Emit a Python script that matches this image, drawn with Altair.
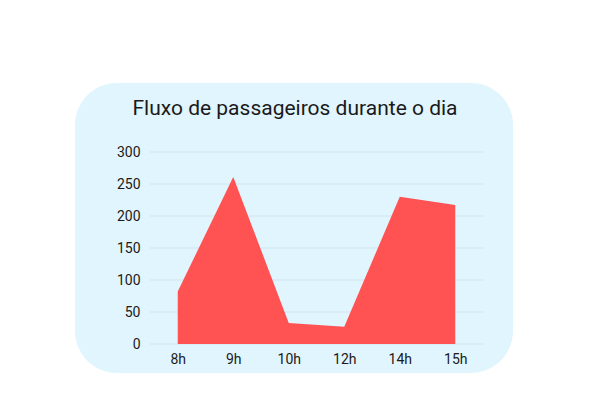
import altair as alt
import pandas as pd

hours = ["8h", "9h", "10h", "12h", "14h", "15h"]
passengers = [82, 261, 33, 27, 230, 217]
y_ticks = [0, 50, 100, 150, 200, 250, 300]
title_text = "Fluxo de passageiros durante o dia"

df = pd.DataFrame({"hora": hours, "passageiros": passengers})
grid_df = pd.DataFrame({"v": y_ticks})

W, H = 333, 192

y_axis = alt.Axis(title=None, values=y_ticks, grid=False, labelOverlap=False,
                  ticks=False, domain=False, labelPadding=10, zindex=1)

bg = alt.Chart(alt.Data(values=[{}])).mark_rect(
    color="#e1f5fe", cornerRadius=42
).encode(
    x=alt.value(-75), x2=alt.value(363), y=alt.value(-69), y2=alt.value(221)
)

title = alt.Chart(alt.Data(values=[{"t": title_text}])).mark_text(
    font="Roboto", fontSize=21, color="#1a1a1a", align="center", baseline="alphabetic"
).encode(
    x=alt.value(145), y=alt.value(-37), text="t:N"
)

grid = alt.Chart(grid_df).mark_rule(color="#d3e5ef", strokeWidth=1).encode(
    y=alt.Y("v:Q", scale=alt.Scale(domain=[0, 300]), axis=y_axis)
)

area = alt.Chart(df).mark_area(color="#ff5252", opacity=1).encode(
    x=alt.X("hora:N", sort=hours, scale=alt.Scale(type="point", padding=0.5),
            axis=alt.Axis(title=None, labelAngle=0, ticks=False, domain=False,
                          grid=False, labelPadding=8, zindex=1)),
    y=alt.Y("passageiros:Q", scale=alt.Scale(domain=[0, 300]), axis=y_axis),
)

chart = alt.layer(bg, grid, area, title).properties(
    width=W, height=H,
    autosize=alt.AutoSizeParams(type="none"),
    padding={"left": 150, "top": 152, "right": 122, "bottom": 68},
    background="white",
).configure_view(stroke=None).configure_axis(
    labelFont="Roboto", labelFontSize=14, labelColor="#1a1a1a"
)

chart.save("out.html", embed_options={"renderer": "svg", "actions": False})
